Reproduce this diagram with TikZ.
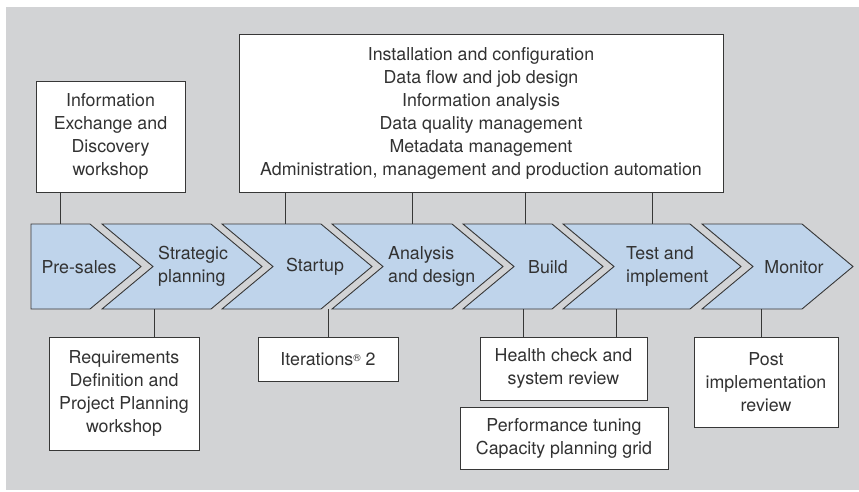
\documentclass[tikz,border=0pt]{standalone}
\usepackage{fontspec}
\setmainfont{TeX Gyre Heros}
\definecolor{bggray}{RGB}{210,211,213}
\definecolor{chevblue}{RGB}{191,212,235}
\definecolor{linegray}{RGB}{55,55,55}
\definecolor{txtgray}{RGB}{50,50,50}
\begin{document}
\begin{tikzpicture}[x=1pt,y=-1pt,
  every node/.style={font=\fontsize{17.8}{23}\selectfont, text=txtgray, align=center, inner sep=0pt},
  twoline/.style={align=left, anchor=west},
  chev/.style={fill=chevblue, draw=linegray, line width=0.9pt, line join=miter},
  infobox/.style={draw=linegray, fill=white, line width=0.9pt},
  conn/.style={draw=linegray, line width=1pt}]
\useasboundingbox (0,0) rectangle (859,491);
\fill[bggray] (6,7) rectangle (859,490);
% chevrons
\def\dd{51}
\path[chev] (31,224) -- (90,224) -- (141,266.5) -- (90,309) -- (31,309) -- cycle;
\foreach \xl/\xr in {102/211,222/321,332/452,463/552,563/690,702/802}{
  \path[chev] (\xl,224) -- (\xr,224) -- (\xr+\dd,266.5) -- (\xr,309) -- (\xl,309) -- (\xl+\dd,266.5) -- cycle;
}
\node (c1) at (79,267) {Pre-sales};
\node[twoline] (c2) at (158,266.5) {Strategic\\planning};
\node (c3) at (315,267) {Startup};
\node[twoline] (c4) at (388,266.5) {Analysis\\and design};
\node (c5) at (548,267) {Build};
\node[twoline] (c6) at (626,266.5) {Test and\\implement};
\node (c7) at (794,267) {Monitor};
% boxes
\node[infobox, minimum width=149pt, minimum height=111pt] (info) at (110.5,136.5) {Information\\Exchange and\\Discovery\\workshop};
\node[infobox, minimum width=484pt, minimum height=158pt] (top) at (481,113) {Installation and configuration\\Data flow and job design\\Information analysis\\Data quality management\\Metadata management\\Administration, management and production automation};
\node[infobox, minimum width=150pt, minimum height=113pt] (req) at (124,393.5) {Requirements\\Definition and\\Project Planning\\workshop};
\node[infobox, minimum width=140pt, minimum height=44pt] (iter) at (328,359) {Iterations\raisebox{0.45ex}{\fontsize{10}{10}\selectfont ®} 2};
\node[infobox, minimum width=167pt, minimum height=63pt] (health) at (563.5,368.5) {Health check and\\system review};
\node[infobox, minimum width=208pt, minimum height=62pt] (perf) at (564,438) {Performance tuning\\Capacity planning grid};
\node[infobox, minimum width=144pt, minimum height=90pt] (post) at (766,382) {Post\\implementation\\review};
% connector anchor points on chevron edges
\coordinate (t1) at (60,224);
\coordinate (t3) at (285,224);
\coordinate (t4) at (412,224);
\coordinate (t5) at (525,224);
\coordinate (t6) at (652,224);
\coordinate (b2) at (154,309);
\coordinate (b3) at (328,309);
\coordinate (b5) at (523,309);
\coordinate (b6) at (616,309);
\coordinate (b7) at (761,309);
\draw[conn] (t1 |- info.south) -- (t1);
\draw[conn] (t3 |- top.south) -- (t3);
\draw[conn] (t4 |- top.south) -- (t4);
\draw[conn] (t5 |- top.south) -- (t5);
\draw[conn] (t6 |- top.south) -- (t6);
\draw[conn] (b2) -- (b2 |- req.north);
\draw[conn] (b3) -- (b3 |- iter.north);
\draw[conn] (b5) -- (b5 |- health.north);
\draw[conn] (b6) -- (b6 |- health.north);
\draw[conn] (b7) -- (b7 |- post.north);
\end{tikzpicture}
\end{document}
